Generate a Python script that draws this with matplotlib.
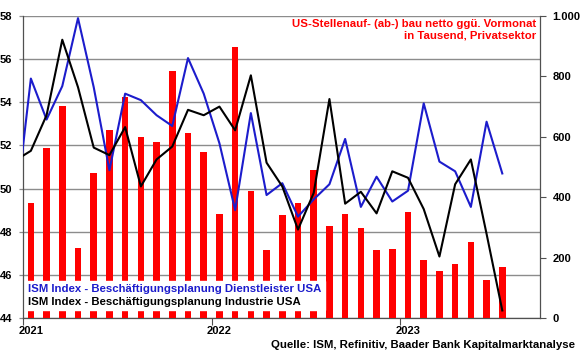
import matplotlib
matplotlib.use("Agg")
import matplotlib.pyplot as plt
from matplotlib.ticker import FuncFormatter, FixedLocator
import numpy as np

plt.rcParams['font.family'] = ['Liberation Sans', 'DejaVu Sans']
plt.rcParams['font.weight'] = 'bold'

# Monthly data (bars: Jan 2021 - Jul 2023; lines: Dec 2020 - Jul 2023)
bar_months = list(range(0, 31))            # 0 = Jan 2021
jobs = [382, 563, 702, 232, 480, 623, 732, 600, 582, 818, 612, 550,
        344, 897, 421, 225, 342, 380, 490, 305, 344, 298, 225, 229,
        351, 192, 156, 179, 253, 126, 169]

line_months = list(range(-1, 31))          # -1 = Dec 2020
ism_services = [48.8,
                55.1, 53.2, 54.75, 57.9, 54.7, 50.85, 54.4, 54.1, 53.4, 52.9, 56.05, 54.4,
                52.1, 49.0, 53.5, 49.7, 50.25, 48.7, 49.5, 50.2, 52.3, 49.15, 50.55, 49.4,
                49.9, 53.95, 51.25, 50.8, 49.15, 53.1, 50.7]
ism_industry = [51.3,
                51.75, 53.4, 56.9, 54.7, 51.9, 51.55, 52.85, 50.1, 51.35, 51.95, 53.65, 53.4,
                53.8, 52.7, 55.25, 51.2, 50.1, 48.1, 49.8, 54.15, 49.3, 49.85, 48.85, 50.8,
                50.5, 49.05, 46.85, 50.2, 51.35, 47.9, 44.35]

year_labels = ['2021', '2022', '2023']
left_ticks = [44, 46, 48, 50, 52, 54, 56, 58]
right_ticks = [0, 200, 400, 600, 800, 1000]

label_services = 'ISM Index - Beschäftigungsplanung Dienstleister USA'
label_industry = 'ISM Index - Beschäftigungsplanung Industrie USA'
title_text = 'US-Stellenauf- (ab-) bau netto ggü. Vormonat\nin Tausend, Privatsektor'
source_text = 'Quelle: ISM, Refinitiv, Baader Bank Kapitalmarktanalyse'

RED = '#ff0000'
BLUE = '#1c1ccc'
GRID = '#8c8c8c'
SPINE = '#505050'
FS = 8.2

fig = plt.figure(figsize=(5.8, 3.58), dpi=100)
rect = [23/580, 40/358, 517/580, 302/358]
ax = fig.add_axes(rect)          # grid + left scale
ax_bar = ax.twinx()              # bars, right scale
ax_line = ax.twinx()             # lines on left scale

xmin, xmax = 0, 32.9
for a in (ax, ax_bar, ax_line):
    a.set_xlim(xmin, xmax)

ax.set_ylim(44, 58)
ax_line.set_ylim(44, 58)
ax_bar.set_ylim(0, 1000)

# grid
ax.set_yticks(left_ticks)
ax.yaxis.grid(True, color=GRID, lw=1.0)
ax.set_axisbelow(True)
ax.tick_params(axis='y', length=3, width=0.9, color=GRID, pad=5, labelsize=8)

# bars
bx = np.array(bar_months) + 0.5
ax_bar.bar(bx, jobs, width=0.42, color=RED, zorder=2)
ax_bar.set_yticks(right_ticks)
ax_bar.yaxis.set_major_formatter(FuncFormatter(lambda v, p: f'{int(v):,}'.replace(',', '.')))
ax_bar.tick_params(axis='y', length=4, width=0.8, color=SPINE, pad=5, labelsize=8)

# lines
lx = np.array(line_months) + 0.5
l1, = ax_line.plot(lx, ism_services, color=BLUE, lw=1.5, label=label_services)
l2, = ax_line.plot(lx, ism_industry, color='black', lw=1.5, label=label_industry)
ax_line.set_yticks([])

# x axis: ticks at year start, labels at mid-January
ax.set_xticks([0, 12, 24])
ax.set_xticklabels([])
ax.tick_params(axis='x', length=5, width=0.8, color=SPINE)
ax.xaxis.set_minor_locator(FixedLocator([0.5, 12.5, 24.5]))
ax.set_xticklabels(year_labels, minor=True)
ax.tick_params(axis='x', which='minor', length=0, pad=6, labelsize=8)
for a in (ax_bar, ax_line):
    a.tick_params(axis='x', which='both', bottom=False, labelbottom=False)

for a in (ax, ax_bar, ax_line):
    a.spines['top'].set_visible(False)
    for s in ('left', 'right', 'bottom'):
        a.spines[s].set_color(SPINE)
        a.spines[s].set_linewidth(0.9)
ax_line.spines['right'].set_visible(False)
ax_line.spines['left'].set_visible(False)
ax_line.spines['bottom'].set_visible(False)
ax_bar.spines['left'].set_visible(False)
ax_bar.spines['bottom'].set_visible(False)
ax.spines['right'].set_visible(False)

# legend (text only)
leg = ax_line.legend(handles=[l1, l2], loc='lower left', bbox_to_anchor=(0.004, 0.026),
                     handlelength=0, handletextpad=0, labelcolor='linecolor',
                     frameon=True, facecolor='white', edgecolor='white', framealpha=1,
                     fancybox=False, borderpad=0.3, labelspacing=0.2, borderaxespad=0,
                     prop={'size': FS, 'weight': 'bold'})
for h in leg.legend_handles:
    h.set_visible(False)

# title inside chart
ax_line.text(0.992, 0.99, title_text, transform=ax_line.transAxes, ha='right', va='top',
             color=RED, fontsize=FS, fontweight='bold', linespacing=1.15, multialignment='right')

fig.text(575/580, 1 - 345/358, source_text, ha='right', va='center',
         fontsize=FS, fontweight='bold')

fig.savefig('out.png', dpi=100)
